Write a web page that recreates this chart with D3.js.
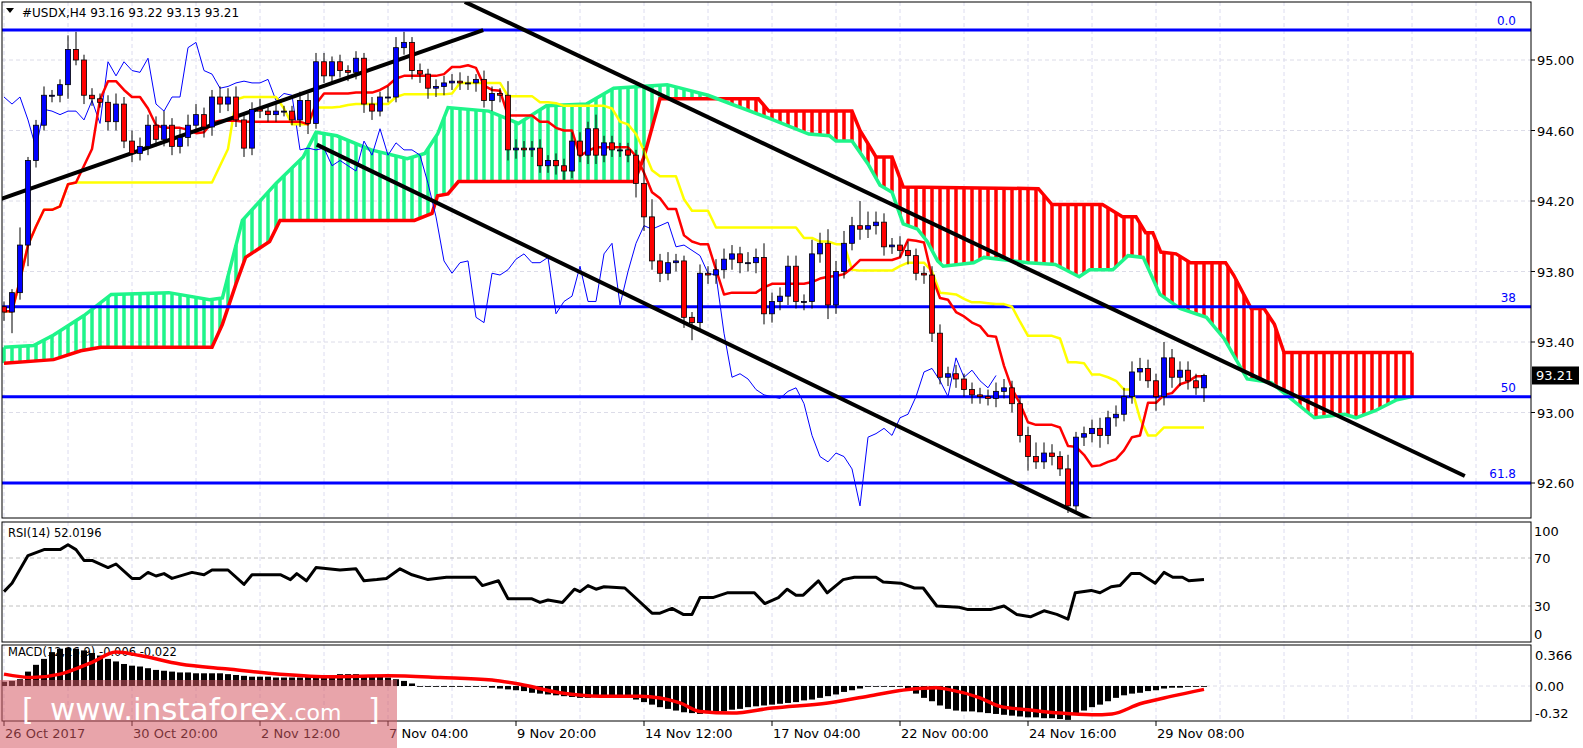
<!DOCTYPE html>
<html><head><meta charset="utf-8">
<script src="https://cdn.jsdelivr.net/npm/d3@7"></script>
<style>body{margin:0;background:#fff}svg{display:block}text{font-family:"DejaVu Sans",sans-serif}</style>
</head><body><svg id="c" width="1583" height="748"></svg>
<script>
const closes=[93.57,93.68,93.95,94.43,94.63,94.80,94.80,94.86,95.06,95.00,
94.80,94.78,94.76,94.65,94.75,94.54,94.47,94.51,94.63,94.55,
94.63,94.51,94.56,94.63,94.69,94.62,94.79,94.75,94.79,94.66,
94.50,94.72,94.71,94.69,94.71,94.71,94.66,94.77,94.64,94.99,
94.91,94.99,94.94,94.93,95.01,94.75,94.71,94.79,94.79,95.07,
95.10,94.94,94.92,94.84,94.85,94.87,94.88,94.87,94.87,94.89,
94.77,94.81,94.80,94.49,94.50,94.49,94.50,94.40,94.43,94.40,
94.37,94.54,94.46,94.61,94.46,94.53,94.49,94.49,94.46,94.30,
94.11,93.86,93.79,93.85,93.86,93.54,93.51,93.79,93.78,93.81,
93.87,93.90,93.85,93.85,93.88,93.56,93.63,93.66,93.83,93.63,
93.63,93.90,93.96,93.61,93.80,93.96,94.06,94.04,94.06,94.08,
93.94,93.95,93.92,93.89,93.79,93.78,93.45,93.20,93.22,93.19,
93.13,93.10,93.09,93.08,93.12,93.14,93.05,92.87,92.75,92.72,
92.77,92.75,92.68,92.47,92.86,92.88,92.91,92.87,92.97,92.99,
93.09,93.23,93.25,93.18,93.09,93.31,93.20,93.24,93.18,93.14,93.21];
const firstOpen=93.60;
// wick extensions above / below the body, in hundredths
const wickUp=[3,2,10,2,3,5,3,3,8,10, 3,4,3,4,6,4,6,5,6,5, 8,4,5,6,6,4,4,6,5,6, 3,4,6,3,4,3,3,5,4,5,
5,3,4,3,4,3,4,3,6,6, 6,3,4,3,4,4,4,5,4,3, 5,4,3,8,5,4,4,5,3,4, 4,5,5,4,8,4,4,4,4,3,
20,10,4,6,4,3,3,5,4,6, 6,5,4,6,5,8,5,5,6,6, 4,8,6,8,6,7,5,14,8,6, 5,4,5,5,4,4,5,5,4,5,
3,4,4,4,5,5,4,4,5,8, 6,5,3,8,3,4,5,6,4,5, 5,6,6,5,4,9,5,5,5,4,1];
const wickDn=[5,12,4,12,4,3,4,4,8,3, 5,4,3,5,5,4,5,4,5,4, 4,5,4,5,4,6,5,5,4,4, 5,4,4,4,4,3,3,4,6,3,
4,4,4,5,4,5,5,3,3,3, 4,5,5,6,5,5,4,4,4,5, 4,6,4,6,5,4,4,4,4,5, 5,4,4,5,5,4,4,4,4,8,
8,5,5,4,5,6,10,5,5,5, 5,6,6,5,6,6,5,5,5,4, 5,4,5,8,5,4,4,6,5,5, 5,4,4,5,4,5,5,4,5,5,
4,5,4,4,5,4,5,4,8,4, 4,5,4,4,4,5,5,7,5,5, 4,4,5,4,8,5,6,5,5,4,8];
// Ichimoku cloud spans: [bar, price]
const spanA=[[0,93.37],[3.7,93.38],[6.2,93.44],[10,93.55],[13.4,93.67],[20.6,93.68],[25.7,93.64],[27.3,93.65],[29.8,94.09],[34,94.30],[37.4,94.45],[39,94.59],[41.6,94.57],[45.9,94.49],[50.4,94.44],[52.6,94.47],[54.2,94.58],[55.5,94.73],[60.6,94.71],[64.3,94.64],[67.8,94.74],[72.8,94.75],[76.2,94.84],[82.9,94.86],[88,94.80],[95.6,94.67],[100.6,94.58],[103.2,94.57],[104,94.54],[106,94.54],[108,94.41],[109.5,94.29],[111,94.25],[112.4,94.07],[114.2,94.04],[115.4,93.97],[116.7,93.86],[117.4,93.83],[121.2,93.85],[122.5,93.88],[128,93.85],[131.4,93.84],[134.4,93.77],[135.7,93.81],[138.6,93.81],[140.5,93.89],[142.4,93.88],[144.5,93.67],[147,93.59],[150.3,93.54],[152.5,93.42],[155.4,93.19],[158.4,93.17],[163.8,92.97],[167.6,92.99],[169,92.97],[171.4,93.01],[174,93.07],[176,93.09]];
const spanB=[[0,93.28],[6.2,93.30],[9.6,93.35],[12.1,93.37],[26,93.37],[27.3,93.50],[29,93.73],[30.2,93.88],[33.2,93.97],[34.5,94.09],[51.3,94.09],[53.5,94.13],[54.2,94.23],[55.5,94.24],[56.8,94.31],[78.8,94.31],[80,94.45],[82,94.78],[94.3,94.78],[95.6,94.71],[106,94.71],[107,94.60],[109,94.45],[111,94.45],[112.4,94.28],[129.3,94.27],[131,94.18],[137.3,94.18],[139.8,94.11],[141.5,94.11],[142.7,94.02],[143.6,94.02],[144.6,93.91],[146.5,93.90],[148.3,93.85],[152.7,93.85],[153.7,93.78],[155.9,93.59],[157.5,93.59],[158.8,93.50],[160,93.34],[176,93.34]];
const rsi=[[0,42],[1,49],[3,72],[5,77],[7,77],[8,81],[9,77],[10,68],[11,68],[13,62],[14,65],[16,53],[17,53],[18,58],[19,55],[20,57],[21,53],[23.5,58],[25,56],[26,60],[28,60],[30,48],[31,56],[34.6,56],[35.8,52],[36.6,57],[37.8,51],[39,62],[42,60],[44,61],[45,51],[46.6,52],[47.8,53],[49.5,61],[51,56],[53,52],[55.3,54],[58.9,54],[59.8,47],[61.8,51],[63,36],[66,36],[67,33],[68,35],[69.8,33],[71.3,44],[72,42],[73,47],[74,44],[75,46],[77.6,45],[81,24],[82,24],[83.5,28],[84.9,23],[86,23],[87,37],[88.6,37],[90.4,41],[93.8,41],[95.1,32],[96.8,37],[97.9,44],[99,39],[99.9,39],[101.8,51],[102.9,41],[104.9,52],[106.3,54],[109,54],[109.9,50],[112.1,49],[113.8,45],[114.9,45],[116.6,30],[119.4,29],[120.5,27],[123.3,27],[125,30],[126.6,23],[128.3,21],[130,26],[131.6,23],[133,19],[133.9,41],[135.9,43],[137,41],[138.4,46],[139.5,47],[140.9,57],[142,57],[143.9,49],[145,58],[146.1,54],[147.3,54],[148.1,51],[150,52]];
const macdHist=[0.05,0.06,0.08,0.17,0.25,0.32,0.40,0.44,0.45,0.44, 0.42,0.39,0.36,0.32,0.29,0.26,0.24,0.23,0.21,0.19,
0.18,0.17,0.16,0.16,0.15,0.15,0.15,0.15,0.14,0.13, 0.12,0.11,0.11,0.11,0.10,0.10,0.10,0.10,0.11,0.12,
0.13,0.13,0.14,0.14,0.14,0.13,0.12,0.11,0.10,0.08, 0.06,0.03,0.00,-0.01,-0.01,-0.01,-0.01,-0.01,-0.01,-0.01,
-0.01,-0.02,-0.03,-0.04,-0.05,-0.06,-0.08,-0.09,-0.10,-0.11, -0.12,-0.13,-0.14,-0.14,-0.13,-0.12,-0.12,-0.12,-0.14,-0.16,
-0.19,-0.22,-0.25,-0.27,-0.29,-0.31,-0.32,-0.33,-0.32,-0.31, -0.30,-0.28,-0.27,-0.25,-0.24,-0.23,-0.22,-0.21,-0.20,-0.19,
-0.17,-0.16,-0.14,-0.12,-0.10,-0.07,-0.05,-0.03,-0.01,0.00, 0.00,-0.01,-0.01,-0.04,-0.09,-0.14,-0.18,-0.23,-0.27,-0.29,
-0.30,-0.30,-0.31,-0.32,-0.33,-0.34,-0.35,-0.36,-0.37,-0.37, -0.38,-0.38,-0.39,-0.40,-0.33,-0.29,-0.25,-0.22,-0.18,-0.14,
-0.11,-0.09,-0.08,-0.06,-0.05,-0.03,-0.02,-0.02,-0.01,-0.01,-0.01];
const macdSignal=[[0,0.14],[3.5,0.10],[7,0.14],[11,0.28],[14,0.40],[17,0.36],[22,0.26],[28,0.20],[34.5,0.14],[41,0.11],[48,0.12],[54.5,0.10],[61,0.07],[64.5,0.02],[69.5,-0.08],[74.5,-0.12],[79.5,-0.12],[84.5,-0.20],[87,-0.30],[91,-0.32],[96,-0.26],[103,-0.20],[108,-0.12],[113,-0.04],[116.5,-0.02],[118,-0.04],[122,-0.14],[124.5,-0.24],[128,-0.28],[132,-0.32],[136,-0.34],[138.5,-0.33],[142,-0.21],[146,-0.12],[150,-0.04]];
const priceTicks=[95.00,94.60,94.20,93.80,93.40,93.00,92.60];
const rsiTicks=[100,70,30,0];
const macdTicks=[0.366,0.00,-0.32];
const timeLabels=["26 Oct 2017","30 Oct 20:00","2 Nov 12:00","7 Nov 04:00","9 Nov 20:00","14 Nov 12:00","17 Nov 04:00","22 Nov 00:00","24 Nov 16:00","29 Nov 08:00"];
const fibo=[[95.17,"0.0"],[93.60,"38"],[93.09,"50"],[92.60,"61.8"]];
const trendLines=[[[-0.5,94.21],[59.9,95.17]],[[57.6,95.33],[182.6,92.64]],[[39.1,94.52],[137.3,92.36]]];
const lastPrice=93.21;

const svg=d3.select("#c");
const L=2,R=1531;
const x=d3.scaleLinear().domain([0,1]).range([4,12]);
const y=d3.scaleLinear().domain([92.6,95.0]).range([483,60]);
const yR=d3.scaleLinear().domain([0,100]).range([642,522]);
const yM=d3.scaleLinear().domain([0,0.366]).range([686,655]);
const P={main:[2,518],rsi:[522,642],macd:[645,721]};
const defs=svg.append("defs");
Object.entries(P).forEach(([k,[t,b]])=>defs.append("clipPath").attr("id","cl"+k).append("rect").attr("x",L).attr("y",t).attr("width",R-L).attr("height",b-t));

const grid=svg.append("g");
for(let b=0;x(b)<R;b+=8){
  Object.values(P).forEach(([t,bb])=>grid.append("line").attr("x1",x(b)).attr("x2",x(b)).attr("y1",t).attr("y2",bb).attr("stroke","#dcdcf0").attr("stroke-dasharray","4,3"));
}
priceTicks.forEach(p=>grid.append("line").attr("x1",L).attr("x2",R).attr("y1",y(p)).attr("y2",y(p)).attr("stroke","#dcdce8").attr("stroke-dasharray","4,3"));
[70,30].forEach(v=>grid.append("line").attr("x1",L).attr("x2",R).attr("y1",yR(v)).attr("y2",yR(v)).attr("stroke","#c0c0c0").attr("stroke-dasharray","4,3"));
grid.append("line").attr("x1",L).attr("x2",R).attr("y1",yM(0)).attr("y2",yM(0)).attr("stroke","#dcdce8").attr("stroke-dasharray","4,3");

const main=svg.append("g").attr("clip-path","url(#clmain)");
const at=(arr,b)=>{for(let i=1;i<arr.length;i++){if(b<=arr[i][0]){const a=arr[i-1],c=arr[i];return a[1]+(c[1]-a[1])*(b-a[0])/(c[0]-a[0]);}}return arr[arr.length-1][1];};
for(let b=0;b<=176;b++){
  const a=at(spanA,b),c=at(spanB,b);
  main.append("line").attr("x1",x(b)).attr("x2",x(b)).attr("y1",y(a)).attr("y2",y(c)).attr("stroke",a>=c?"#1ef58a":"#ff0000").attr("stroke-width",3.5);
}
const ln=d3.line().x(d=>x(d[0])).y(d=>y(d[1]));
main.append("path").attr("d",ln(spanB)).attr("fill","none").attr("stroke","#ff0000").attr("stroke-width",3.5);
main.append("path").attr("d",ln(spanA)).attr("fill","none").attr("stroke","#1ef58a").attr("stroke-width",3.5);

fibo.forEach(([p,t])=>{
  main.append("line").attr("x1",L).attr("x2",R).attr("y1",y(p)).attr("y2",y(p)).attr("stroke","#0000ff").attr("stroke-width",3);
  svg.append("text").attr("x",1516).attr("y",y(p)-5).attr("text-anchor","end").attr("font-size",12).attr("fill","#0000ff").text(t);
});

const opens=closes.map((c,i)=>i?closes[i-1]:firstOpen);
const highs=closes.map((c,i)=>Math.max(c,opens[i])+wickUp[i]/100);
const lows=closes.map((c,i)=>Math.min(c,opens[i])-wickDn[i]/100);
const mid=(i,n)=>{const s=Math.max(0,i-n+1);return (d3.max(highs.slice(s,i+1))+d3.min(lows.slice(s,i+1)))/2;};
const tenkan=closes.map((c,i)=>[i,mid(i,9)]);
const kijun=closes.map((c,i)=>[i,mid(i,26)]);
const chikou=closes.slice(26).map((c,i)=>[i,c]);
main.append("path").attr("d",ln(chikou)).attr("fill","none").attr("stroke","#0000ff").attr("stroke-width",1);
main.append("path").attr("d",ln(kijun)).attr("fill","none").attr("stroke","#ffff00").attr("stroke-width",2.5).attr("stroke-linejoin","round");
main.append("path").attr("d",ln(tenkan)).attr("fill","none").attr("stroke","#ff0000").attr("stroke-width",2.5).attr("stroke-linejoin","round");

trendLines.forEach(t=>main.append("path").attr("d",ln(t)).attr("stroke","#000").attr("stroke-width",4).attr("fill","none"));

const cg=main.append("g");
closes.forEach((c,i)=>{
  const o=opens[i];
  cg.append("line").attr("x1",x(i)).attr("x2",x(i)).attr("y1",y(highs[i])).attr("y2",y(lows[i])).attr("stroke","#000");
  const top=y(Math.max(o,c)),bot=y(Math.min(o,c));
  cg.append("rect").attr("x",x(i)-2.5).attr("width",5).attr("y",top).attr("height",Math.max(1,bot-top))
    .attr("fill",c>=o?"#0000ff":"#ff0000").attr("stroke","#000").attr("stroke-width",0.8);
});

const rg=svg.append("g").attr("clip-path","url(#clrsi)");
rg.append("path").attr("d",d3.line().x(d=>x(d[0])).y(d=>yR(d[1]))(rsi)).attr("fill","none").attr("stroke","#000").attr("stroke-width",3).attr("stroke-linejoin","round");
const mg=svg.append("g").attr("clip-path","url(#clmacd)");
mg.append("text").attr("x",8).attr("y",656).attr("font-size",11.5).text("MACD(12,26,9) -0.006 -0.022");
macdHist.forEach((v,i)=>mg.append("rect").attr("x",x(i)-3).attr("width",6).attr("y",Math.min(yM(v),yM(0))).attr("height",Math.max(0.8,Math.abs(yM(v)-yM(0)))).attr("fill","#000"));
mg.append("path").attr("d",d3.line().x(d=>x(d[0])).y(d=>yM(d[1])).curve(d3.curveMonotoneX)(macdSignal)).attr("fill","none").attr("stroke","#ff0000").attr("stroke-width",3.5);

Object.values(P).forEach(([t,b])=>svg.append("rect").attr("x",L).attr("y",t).attr("width",R-L).attr("height",b-t).attr("fill","none").attr("stroke","#000"));

const axT=svg.append("g");
priceTicks.forEach(p=>{axT.append("line").attr("x1",R).attr("x2",R+4).attr("y1",y(p)).attr("y2",y(p)).attr("stroke","#000");
  axT.append("text").attr("x",R+6).attr("y",y(p)+5).attr("font-size",13).text(p.toFixed(2));});
rsiTicks.forEach(v=>axT.append("text").attr("x",R+3).attr("y",Math.min(Math.max(yR(v)+5,536),639)).attr("font-size",13).text(v));
macdTicks.forEach(v=>axT.append("text").attr("x",R+4).attr("y",yM(v)+5).attr("font-size",13).text(v===0?"0.00":String(v)));
axT.append("rect").attr("x",R+1).attr("y",y(lastPrice)-9).attr("width",47).attr("height",18).attr("fill","#000");
axT.append("text").attr("x",R+5).attr("y",y(lastPrice)+5).attr("font-size",13).attr("fill","#fff").text(lastPrice.toFixed(2));
timeLabels.forEach((t,k)=>{const xx=x(16*k);
  axT.append("line").attr("x1",xx).attr("x2",xx).attr("y1",721).attr("y2",726).attr("stroke","#000");
  axT.append("text").attr("x",xx+1).attr("y",738).attr("font-size",13).text(t);});

svg.append("path").attr("d","M6,8 L14,8 L10,13 Z").attr("fill","#000");
svg.append("text").attr("x",22).attr("y",17).attr("font-size",12).text("#USDX,H4  93.16 93.22 93.13 93.21");
svg.append("text").attr("x",8).attr("y",537).attr("font-size",11.5).text("RSI(14) 52.0196");

svg.append("rect").attr("x",0).attr("y",680).attr("width",397).attr("height",68).attr("fill","rgba(214,90,100,0.55)");
const wm=svg.append("text").attr("y",720).attr("fill","#fff").attr("font-family","'Open Sans',sans-serif");
wm.append("tspan").attr("x",22).attr("font-size",30).text("[");
wm.append("tspan").attr("x",50).attr("font-size",31).text("www.instaforex");
wm.append("tspan").attr("font-size",22).text(".com");
wm.append("tspan").attr("x",368).attr("font-size",30).text("]");
</script></body></html>
